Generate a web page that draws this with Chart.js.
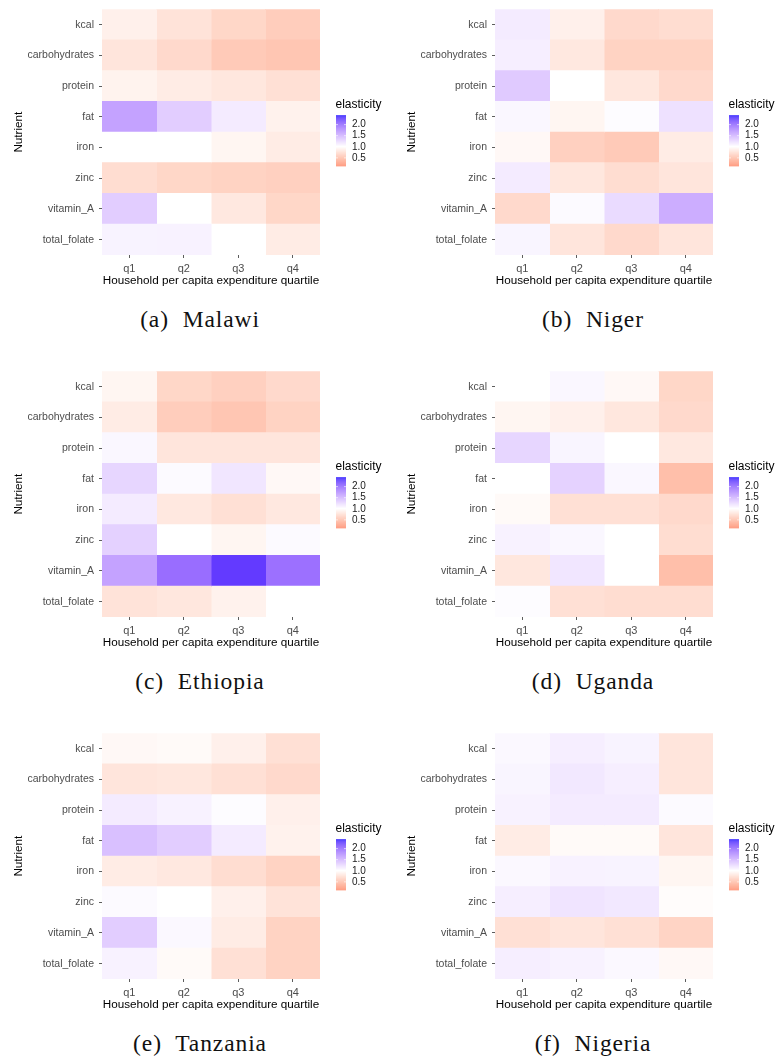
<!DOCTYPE html>
<html>
<head>
<meta charset="utf-8">
<script src="https://cdn.jsdelivr.net/npm/chart.js@4.4.0/dist/chart.umd.min.js"></script>
<style>
  html, body { margin: 0; padding: 0; background: #ffffff; }
  #page { position: relative; width: 775px; height: 1061px; overflow: hidden; background: #ffffff; }
  .panel { position: absolute; }
  .cap {
    position: absolute; width: 400px; text-align: center;
    font-family: 'Liberation Serif', 'Times New Roman', serif;
    font-size: 23.5px; line-height: 1; letter-spacing: 0.9px; word-spacing: 7px; color: #111111;
    white-space: nowrap;
  }
</style>
</head>
<body>
<div id="page"></div>
<script>
// ---- data -----------------------------------------------------------------
const quartiles = ['q1', 'q2', 'q3', 'q4'];
const nutrients = ['kcal', 'carbohydrates', 'protein', 'fat', 'iron', 'zinc', 'vitamin_A', 'total_folate'];

// elasticity by nutrient (rows) and expenditure quartile (columns)
const malawi = [
  [0.89, 0.79, 0.70, 0.63],
  [0.81, 0.72, 0.61, 0.58],
  [0.91, 0.86, 0.82, 0.77],
  [1.57, 1.30, 1.12, 0.90],
  [1.00, 1.00, 0.93, 0.86],
  [0.75, 0.70, 0.67, 0.65],
  [1.30, 1.00, 0.83, 0.70],
  [1.07, 1.08, 1.00, 0.86]
];
const niger = [
  [1.12, 0.89, 0.72, 0.75],
  [1.10, 0.83, 0.67, 0.67],
  [1.32, 1.00, 0.82, 0.72],
  [1.05, 0.93, 1.02, 1.18],
  [0.95, 0.65, 0.61, 0.86],
  [1.12, 0.82, 0.75, 0.81],
  [0.72, 1.03, 1.22, 1.50],
  [1.06, 0.81, 0.72, 0.81]
];
const ethiopia = [
  [0.93, 0.70, 0.65, 0.72],
  [0.86, 0.63, 0.58, 0.67],
  [1.05, 0.81, 0.81, 0.81],
  [1.25, 1.03, 1.15, 0.95],
  [1.12, 0.83, 0.77, 0.83],
  [1.28, 1.00, 0.93, 1.03],
  [1.57, 1.90, 2.20, 1.88],
  [0.79, 0.82, 0.90, 1.00]
];
const uganda = [
  [1.00, 1.05, 0.95, 0.70],
  [0.93, 0.89, 0.82, 0.72],
  [1.25, 1.06, 1.00, 0.83],
  [1.00, 1.27, 1.05, 0.53],
  [0.96, 0.77, 0.77, 0.72],
  [1.08, 1.05, 1.00, 0.75],
  [0.82, 1.15, 1.00, 0.53],
  [1.02, 0.77, 0.75, 0.75]
];
const tanzania = [
  [0.95, 0.96, 0.89, 0.77],
  [0.81, 0.82, 0.77, 0.72],
  [1.12, 1.08, 1.02, 0.89],
  [1.38, 1.30, 1.12, 0.90],
  [0.86, 0.83, 0.75, 0.67],
  [1.03, 1.00, 0.89, 0.79],
  [1.30, 1.04, 0.86, 0.67],
  [1.08, 0.96, 0.77, 0.67]
];
const nigeria = [
  [1.04, 1.10, 1.07, 0.81],
  [1.06, 1.14, 1.10, 0.81],
  [1.08, 1.12, 1.12, 1.03],
  [0.86, 0.96, 0.96, 0.81],
  [1.04, 1.08, 1.07, 0.93],
  [1.10, 1.16, 1.14, 0.98],
  [0.77, 0.81, 0.77, 0.68],
  [1.10, 1.08, 1.04, 0.95]
];

const panelTags = ['(a)', '(b)', '(c)', '(d)', '(e)', '(f)'];
const countries = ['Malawi', 'Niger', 'Ethiopia', 'Uganda', 'Tanzania', 'Nigeria'];
const countryValues = [malawi, niger, ethiopia, uganda, tanzania, nigeria];

// colour scale: red -> white (at 1) -> blue, interpolated in CIELAB
const legendBreaks = [0.5, 1.0, 1.5, 2.0];
const fillLimits = [0.12, 2.42];
const fillMid = 1.0;

// ---- colour helpers ---------------------------------------------------------
const WHITE = [100, 0, 0];
function toLin(c) { c /= 255; return c <= 0.04045 ? c / 12.92 : Math.pow((c + 0.055) / 1.055, 2.4); }
function toSrgb(c) {
  c = c <= 0.0031308 ? 12.92 * c : 1.055 * Math.pow(c, 1 / 2.4) - 0.055;
  return Math.round(Math.max(0, Math.min(1, c)) * 255);
}
function rgbToLab(rgb) {
  const [R, G, B] = rgb.map(toLin);
  const X = (0.4124 * R + 0.3576 * G + 0.1805 * B) / 0.95047;
  const Y = (0.2126 * R + 0.7152 * G + 0.0722 * B);
  const Z = (0.0193 * R + 0.1192 * G + 0.9505 * B) / 1.08883;
  const f = t => t > 0.008856 ? Math.cbrt(t) : 7.787 * t + 16 / 116;
  const fx = f(X), fy = f(Y), fz = f(Z);
  return [116 * fy - 16, 500 * (fx - fy), 200 * (fy - fz)];
}
function labToRgb(lab) {
  const [L, a, b] = lab;
  const fy = (L + 16) / 116, fx = fy + a / 500, fz = fy - b / 200;
  const inv = t => (t * t * t > 0.008856 ? t * t * t : (t - 16 / 116) / 7.787);
  const X = 0.95047 * inv(fx), Y = inv(fy), Z = 1.08883 * inv(fz);
  const R = 3.2406 * X - 1.5372 * Y - 0.4986 * Z;
  const G = -0.9689 * X + 1.8758 * Y + 0.0415 * Z;
  const Bl = 0.0557 * X - 0.2040 * Y + 1.0570 * Z;
  return [toSrgb(R), toSrgb(G), toSrgb(Bl)];
}
const LOW = rgbToLab([255, 0, 0]);
const HIGH = rgbToLab([0, 0, 255]);
const halfSpan = Math.max(fillLimits[1] - fillMid, fillMid - fillLimits[0]);

function fillColour(v) {
  const t = Math.min(1, Math.abs(v - fillMid) / halfSpan);
  const end = v >= fillMid ? HIGH : LOW;
  const lab = WHITE.map((w, i) => w + (end[i] - w) * t);
  const [r, g, b] = labToRgb(lab);
  return `rgb(${r},${g},${b})`;
}

// ---- colour bar legend ------------------------------------------------------
const colourBar = {
  id: 'colourBar',
  afterDraw(chart) {
    const { ctx, chartArea } = chart;
    const x0 = chartArea.right + 16;
    const top = chartArea.top + 106;
    const h = 51, w = 10;
    const span = fillLimits[1] - fillLimits[0];
    const yOf = v => top + (fillLimits[1] - v) / span * h;
    ctx.save();
    ctx.font = '12px "Liberation Sans", Arial, sans-serif';
    ctx.fillStyle = '#000000';
    ctx.textBaseline = 'middle';
    ctx.textAlign = 'left';
    ctx.fillText('elasticity', x0 - 0.5, chartArea.top + 95);
    for (let i = 0; i < h; i++) {
      const v = fillLimits[1] - (i + 0.5) / h * span;
      ctx.fillStyle = fillColour(v);
      ctx.fillRect(x0, top + i, w, 1.02);
    }
    ctx.strokeStyle = '#ffffff';
    ctx.lineWidth = 0.6;
    ctx.fillStyle = '#1a1a1a';
    ctx.font = '10px "Liberation Sans", Arial, sans-serif';
    legendBreaks.forEach(b => {
      const y = yOf(b);
      ctx.beginPath();
      ctx.moveTo(x0, y); ctx.lineTo(x0 + 2, y);
      ctx.moveTo(x0 + w - 2, y); ctx.lineTo(x0 + w, y);
      ctx.stroke();
      ctx.fillText(b.toFixed(1), x0 + w + 6, y);
    });
    ctx.restore();
  }
};

// ---- panels -------------------------------------------------------------------
Chart.defaults.font.family = '"Liberation Sans", Arial, sans-serif';
const page = document.getElementById('page');
const W = 385, H = 300, COL = 393, ROW = 362;

countryValues.forEach((values, idx) => {
  const col = idx % 2, row = Math.floor(idx / 2);
  const box = document.createElement('div');
  box.className = 'panel';
  box.style.left = (col * COL) + 'px';
  box.style.top = (row * ROW - 2) + 'px';
  const canvas = document.createElement('canvas');
  canvas.width = W; canvas.height = H;
  canvas.style.width = W + 'px'; canvas.style.height = H + 'px';
  box.appendChild(canvas);
  page.appendChild(box);

  const cap = document.createElement('div');
  cap.className = 'cap';
  cap.style.left = (col * COL) + 'px';
  cap.style.top = (row * ROW + 308) + 'px';
  cap.textContent = panelTags[idx] + ' ' + countries[idx];
  page.appendChild(cap);

  const datasets = quartiles.map((q, qi) => ({
    label: q,
    data: nutrients.map(() => [qi, qi + 1]),
    backgroundColor: values.map(r => fillColour(r[qi])),
    borderWidth: 0,
    grouped: false,
    barPercentage: 1,
    categoryPercentage: 1,
    inflateAmount: 0.5
  }));

  new Chart(canvas, {
    type: 'bar',
    data: { labels: nutrients, datasets },
    options: {
      indexAxis: 'y',
      responsive: false,
      animation: false,
      events: [],
      layout: { padding: { left: 0, top: 8, right: W - 320, bottom: 0 } },
      plugins: { legend: { display: false }, tooltip: { enabled: false } },
      scales: {
        x: {
          type: 'linear', min: 0, max: 4,
          afterBuildTicks: s => { s.ticks = quartiles.map((q, i) => ({ value: i + 0.5 })); },
          afterFit: s => { s.height = 43; },
          ticks: {
            callback: v => quartiles[Math.floor(v)],
            color: '#4d4d4d', font: { size: 11 }, padding: 4, maxRotation: 0, autoSkip: false
          },
          grid: { display: true, drawOnChartArea: false, drawTicks: true, tickLength: 3, color: '#333333', lineWidth: 0.8 },
          border: { display: false },
          title: {
            display: true, text: 'Household per capita expenditure quartile',
            color: '#000000', font: { size: 11.7 }, padding: { top: 0, bottom: 10 }
          }
        },
        y: {
          type: 'category', offset: true,
          afterFit: s => { s.width = 102; },
          ticks: { color: '#4d4d4d', font: { size: 10.5 }, padding: 5, autoSkip: false },
          grid: { display: true, offset: false, drawOnChartArea: false, drawTicks: true, tickLength: 3, color: '#333333', lineWidth: 0.8 },
          border: { display: false },
          title: {
            display: true, text: 'Nutrient',
            color: '#000000', font: { size: 11.7 }, padding: { top: 12, bottom: 0 }
          }
        }
      }
    },
    plugins: [colourBar]
  });
});
</script>
</body>
</html>
